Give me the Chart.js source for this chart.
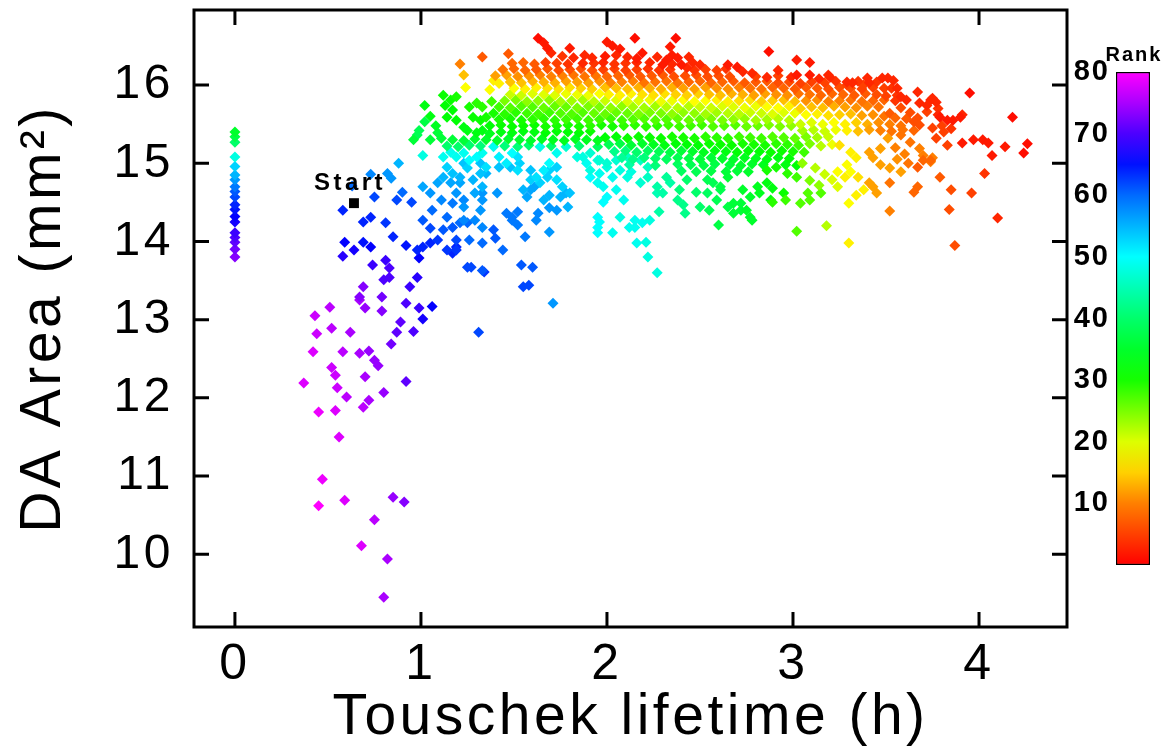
<!DOCTYPE html>
<html lang="en">
<head>
<meta charset="UTF-8">
<title>DA Area vs Touschek lifetime</title>
<script src="https://cdn.jsdelivr.net/npm/chart.js"></script>
<style>
  body { margin: 0; background: #fff; }
  #wrap { position: relative; width: 1164px; height: 752px; }
  #main { position: absolute; left: 0; top: 0; }
  #bar { position: absolute; left: 1060px; top: 0; }
</style>
</head>
<body>
<div id="wrap">
  <canvas id="main" width="1164" height="752"></canvas>
  <canvas id="bar" width="104" height="600"></canvas>
</div>
<script>
// axis ticks
const xTicks = [0, 1, 2, 3, 4];
const yTicks = [10, 11, 12, 13, 14, 15, 16];
const rankTicks = [10, 20, 30, 40, 50, 60, 70, 80];
const rankRange = [0, 80];

// starting lattice
const startPoint = [0.64, 14.49];
const startLabel = 'Start';

// [lifetime (h), DA area (mm2), rank]
const zeroColumn = [
  [0,15.40,35],[0,15.34,37],[0,15.27,40],[0,15.08,48],[0,14.96,53],[0,14.85,55],[0,14.79,57],[0,14.70,59],[0,14.64,61],[0,14.57,62],
  [0,14.47,64],[0,14.41,65],[0,14.32,66],[0,14.25,67],[0,14.11,69],[0,14.05,70],[0,13.99,71],[0,13.90,72],[0,13.80,73]
];

const lowTail = [
  [0.43,13.05,77],[0.51,13.16,76],[0.44,12.82,77],[0.52,12.89,76],[0.62,12.84,75],[0.42,12.59,78],[0.58,12.59,76],[0.67,12.57,75],
  [0.72,12.60,74],[0.75,12.48,74],[0.77,12.41,74],[0.52,12.39,77],[0.54,12.29,77],[0.70,12.27,75],[0.37,12.19,78],[0.92,12.21,71],
  [0.55,12.13,77],[0.60,12.01,76],[0.80,12.07,74],[0.72,11.97,75],[0.69,11.88,76],[0.45,11.82,79],[0.54,11.84,78],[0.56,11.50,78],
  [0.47,10.96,79],[0.45,10.62,80],[0.59,10.69,78],[0.85,10.73,74],[0.91,10.67,73],[0.75,10.44,76],[0.68,10.11,78],[0.82,9.94,75],
  [0.80,9.45,75],[0.67,13.25,75],[0.70,13.15,74],[0.79,13.11,73],[0.92,13.21,70],[0.99,13.15,69],[1.06,13.17,66],[0.89,12.97,71],
  [1.01,13.01,67],[0.87,12.84,71],[0.96,12.85,70],[0.84,12.69,72],[1.31,12.84,62]
];

const blueCloud = [
  [0.58,14.40,64],[0.63,14.71,60],[0.73,14.86,58],[0.75,14.57,62],[0.82,14.87,57],[0.84,14.81,57],[0.88,15.00,55],[0.90,14.63,60],
  [0.87,14.53,62],[0.95,14.50,62],[0.69,14.25,64],[0.73,14.31,64],[0.81,14.24,63],[0.85,14.06,64],[0.59,13.99,66],[0.69,13.99,65],
  [0.73,13.93,66],[0.64,13.89,67],[0.58,13.81,68],[0.74,13.70,69],[0.81,13.76,69],[0.83,13.66,70],[0.92,13.95,65],[0.98,13.89,64],
  [1.01,13.93,64],[1.05,13.98,64],[0.99,13.79,66],[1.09,14.02,63],[1.01,14.27,61],[1.06,14.40,60],[1.11,14.53,58],[1.14,14.31,60],
  [1.17,14.18,61],[1.19,14.02,62],[1.05,14.17,62],[1.12,14.15,61],[1.14,13.89,63],[1.19,13.89,63],[1.25,13.67,62],[1.27,13.67,62],
  [1.33,13.63,61],[1.26,14.02,60],[1.33,14.18,58],[1.32,14.40,57],[1.23,14.44,57],[1.23,14.27,58],[1.29,14.27,58],[1.33,13.98,60],
  [0.80,13.51,70],[0.83,13.54,70],[0.94,13.42,69],[0.98,13.54,68],[0.69,13.42,73],[0.67,13.29,73],[0.79,13.29,72],[1.19,13.93,64],
  [1.17,13.85,64],[1.34,13.61,63],[1.39,14.15,61],[1.44,13.89,60],[1.40,14.04,61],[1.46,14.36,59],[1.49,14.31,59],[1.52,14.38,59],
  [1.49,14.27,59],[1.56,14.06,59],[1.54,13.70,61],[1.60,13.67,61],[1.55,13.42,62],[1.58,13.44,62],[1.69,14.12,57],[1.62,14.27,58],
  [1.63,14.36,58],[1.52,14.21,59],[1.71,13.21,57],[1.17,14.49,59],[1.21,14.24,60],[1.25,14.24,60],[1.23,14.53,58],[1.33,14.53,57]
];

const cyanCloud = [
  [1.57,14.57,56],[1.59,14.66,56],[1.61,14.70,56],[1.66,14.53,55],[1.69,14.59,55],[1.75,14.57,55],[1.78,14.62,55],[1.79,14.44,55],
  [1.73,14.40,57],[1.69,14.43,57],[1.64,14.75,53],[1.68,14.82,53],[1.69,14.91,53],[1.73,14.95,53],[1.23,15.00,54],[1.32,15.00,54],
  [1.35,14.87,55],[1.21,14.75,56],[1.33,14.62,57],[1.41,14.62,57],[1.42,14.95,54],[1.48,14.95,54],[1.53,15.00,53],[1.52,15.08,52],
  [1.59,14.91,54],[1.12,15.08,49],[1.16,15.14,49],[1.19,15.08,49],[1.23,15.13,49],[1.26,15.04,50],[1.30,15.08,50],[1.33,15.13,49],
  [1.01,15.10,48],[1.14,14.95,53],[1.17,14.87,54],[1.21,14.82,55],[1.25,14.94,53],[1.28,14.79,55],[1.32,14.87,54],[1.12,14.82,55],
  [1.16,14.75,56],[1.19,14.62,57],[1.01,14.70,56],[1.05,14.62,57],[1.09,14.75,56],[1.29,14.62,56],[1.33,14.70,55],
  [2.27,13.60,48],[2.22,13.80,48],[2.21,13.99,48],[2.16,13.98,49],[2.15,14.18,49],[2.19,14.24,49],[2.07,14.31,48],[2.03,14.11,49],
  [1.95,14.11,50],[1.96,14.25,50],[1.98,14.50,50],[2.05,14.66,49],[2.09,14.53,49],[2.28,14.38,44],[2.30,14.62,44],[2.41,14.47,42],
  [2.38,14.53,42],[2.48,14.63,40],[2.43,14.79,40],[2.32,14.82,43],[2.39,14.66,41],[2.27,14.70,44],[2.22,14.82,46],[2.18,14.75,47],
  [2.11,14.82,48],[2.13,14.89,48],[2.03,14.82,49],[1.96,14.87,49],[1.91,14.82,50],[1.89,15.00,49],[1.95,15.04,48],[2.00,14.95,48],
  [2.07,14.91,48],[1.91,15.13,47],[1.78,15.21,47],[1.84,15.08,48],[1.73,15.13,49],[1.69,15.00,50],[1.66,14.91,51],[1.62,14.82,52],
  [1.59,14.79,53],[1.73,14.79,52],[1.76,14.70,53],[1.80,14.62,54],[1.55,14.66,55],[1.52,14.91,52],[1.46,15.00,51],[1.42,15.08,51],
  [1.49,15.13,50],[1.39,15.21,49],[1.35,14.95,52],[1.64,15.21,48],[1.95,14.75,49],[1.98,14.70,49],[2.00,14.57,50],[1.95,14.31,50],
  [1.95,14.18,50],[2.12,14.18,49],[2.15,14.27,49],[2.23,14.27,48],[2.27,14.62,45],[2.34,14.75,44],[2.42,14.36,42],[1.87,15.08,48],
  [1.91,14.91,48],[1.96,15.04,47],[2.00,15.00,47],[2.05,15.04,47],[2.11,15.08,46],[2.18,15.04,46],[2.22,14.95,46]
];

const greenUpper = [
  [1.12,15.87,31],[1.13,15.74,32],[1.16,15.81,31],[1.19,15.85,30],[1.17,15.68,32],[1.14,15.59,32],[1.19,15.55,32],[1.23,15.46,33],
  [1.02,15.74,33],[0.99,15.42,38],[0.98,15.36,38],[1.02,15.53,37],[1.09,15.39,36],[1.26,15.72,30],[1.30,15.77,29],[1.33,15.72,29],
  [1.28,15.59,31],[1.32,15.55,31],[1.35,15.59,30],[1.25,15.42,33],[1.30,15.39,33],[1.33,15.42,33],[1.05,15.60,33],[1.08,15.48,34],
  [0.96,15.30,36],[1.05,15.30,36],[1.11,15.32,36],[1.17,15.30,36],[1.23,15.29,36],[1.29,15.31,35],[1.35,15.30,35],
  [1.14,15.22,40],[1.20,15.21,40],[1.26,15.23,40],[1.32,15.22,41]
];

const greenLow = [
  [2.50,14.44,40],[2.55,14.40,38],[2.60,14.21,37],[2.68,14.49,36],[2.75,14.40,35],[2.78,14.27,35],[2.88,14.53,33],[2.89,14.68,33],
  [2.73,14.66,35],[2.82,14.62,34],[2.61,14.70,37],[2.65,14.82,36],[2.54,14.79,38],[2.54,14.62,39],[2.57,14.75,38],[2.61,14.66,38],
  [2.59,14.53,38],[2.65,14.44,37],[2.68,14.36,36],[2.72,14.40,36],[2.77,14.31,35],[2.72,14.49,36],[2.77,14.57,35],[2.81,14.70,34],
  [2.86,14.75,33],[2.95,14.62,31],[3.02,14.13,27],[3.15,14.62,27],[3.09,14.53,27],[3.08,14.62,27],[3.04,14.49,27],[2.96,14.53,28],
  [2.89,14.50,29],[3.02,14.82,28],[2.97,14.87,29],[2.91,14.95,30],[2.86,14.91,30],[3.05,15.00,24],[3.12,14.94,22],[3.17,14.86,21],
  [3.09,14.78,25],[3.14,14.72,24],[3.18,14.20,22]
];

const frontBand = [
  [1.33,16.36,7],[1.47,16.40,7],[1.76,16.37,4],[1.99,16.37,2],[2.05,16.38,3],[2.11,16.36,3],[2.16,16.34,2],[2.44,16.36,3],
  [1.21,16.27,10],[1.49,16.28,8],[1.55,16.29,8],[1.61,16.27,7],[1.67,16.29,5],[1.73,16.28,5],[1.79,16.27,4],[1.93,16.28,4],
  [1.98,16.29,3],[2.04,16.27,4],[2.10,16.28,4],[2.16,16.29,3],[2.35,16.27,3],[2.46,16.29,3],
  [1.44,16.20,9],[1.50,16.21,8],[1.56,16.19,8],[1.62,16.20,7],[1.68,16.21,7],[1.74,16.19,6],[1.80,16.20,6],[1.86,16.21,6],
  [1.92,16.19,6],[1.98,16.20,5],[2.04,16.21,5],[2.10,16.19,5],[2.16,16.20,5],[2.22,16.21,4],[2.28,16.19,4],[2.34,16.20,4],
  [2.47,16.19,4],[2.53,16.20,5],[2.59,16.19,5],[2.64,16.21,4],[2.92,16.19,3],
  [1.23,16.13,14],[1.40,16.12,12],[1.46,16.13,12],[1.52,16.11,11],[1.58,16.12,11],[1.64,16.13,10],[1.70,16.11,10],[1.76,16.12,10],
  [1.82,16.13,9],[1.88,16.11,9],[1.94,16.12,9],[2.00,16.11,8],[2.06,16.12,8],[2.12,16.13,7],[2.18,16.11,7],[2.24,16.12,7],
  [2.30,16.13,7],[2.36,16.11,6],[2.42,16.12,6],[2.48,16.13,6],[2.54,16.11,6],[2.60,16.12,6],[2.66,16.11,6],[2.80,16.11,5],
  [2.92,16.12,5],[3.14,16.08,3],
  [1.39,16.06,17],[1.42,16.02,17],[1.48,16.04,14],[1.54,16.03,14],[1.60,16.05,13],[1.66,16.04,13],[1.72,16.03,13],[1.78,16.05,12],
  [1.84,16.04,12],[1.90,16.03,12],[1.96,16.05,11],[2.02,16.03,10],[2.08,16.04,10],[2.14,16.05,10],[2.20,16.03,9],[2.26,16.04,9],
  [2.32,16.05,9],[2.38,16.03,9],[2.44,16.04,8],[2.50,16.05,8],[2.56,16.03,8],[2.62,16.04,8],[2.68,16.05,7],[2.74,16.03,7],
  [2.80,16.04,7],[2.86,16.05,7],[2.92,16.03,6],[2.98,16.04,6],[3.04,16.02,5],[3.10,16.04,5],[3.17,16.03,5],[3.23,16.05,4],
  [3.35,16.05,4],[3.45,16.04,4],
  [1.24,15.97,18],[1.37,15.94,18],[1.50,15.96,18],[1.56,15.95,17],[1.62,15.97,17],[1.68,15.96,16],[1.74,15.95,16],[1.80,15.97,16],
  [1.86,15.96,15],[1.92,15.95,15],[1.99,15.97,14],[2.05,15.96,14],[2.11,15.95,14],[2.17,15.97,13],[2.23,15.96,13],[2.29,15.95,13],
  [2.35,15.97,13],[2.41,15.96,12],[2.47,15.95,12],[2.53,15.97,12],[2.59,15.96,11],[2.65,15.95,11],[2.71,15.97,10],[2.77,15.96,9],
  [2.83,15.95,9],[2.89,15.97,8],[2.95,15.96,8],[3.01,15.95,7],[3.07,15.97,7],[3.13,15.96,7],[3.19,15.95,6],[3.31,15.96,6],
  [3.37,15.95,5],[3.43,15.97,5],[3.49,15.96,5],
  [1.48,15.88,21],[1.54,15.87,21],[1.60,15.89,20],[1.66,15.88,20],[1.72,15.87,20],[1.78,15.89,19],[1.84,15.88,19],[1.90,15.87,19],
  [1.96,15.89,18],[2.01,15.88,17],[2.07,15.87,17],[2.13,15.89,17],[2.19,15.88,16],[2.25,15.87,16],[2.31,15.89,16],[2.37,15.88,15],
  [2.43,15.87,15],[2.49,15.89,15],[2.55,15.88,14],[2.61,15.87,14],[2.67,15.89,13],[2.73,15.88,13],[2.79,15.87,12],[2.85,15.89,12],
  [2.91,15.88,11],[2.97,15.87,11],[3.03,15.89,9],[3.09,15.88,9],[3.15,15.87,8],[3.21,15.89,8],[3.27,15.88,8],[3.33,15.87,7],
  [3.39,15.89,7],[3.45,15.88,6],[3.50,15.86,5],
  [1.38,15.79,28],[1.45,15.80,25],[1.51,15.81,25],[1.57,15.79,24],[1.63,15.80,24],[1.69,15.81,24],[1.75,15.79,23],[1.81,15.80,23],
  [1.87,15.81,23],[1.93,15.79,22],[1.99,15.80,21],[2.05,15.81,20],[2.11,15.79,20],[2.17,15.80,20],[2.23,15.81,19],[2.29,15.79,19],
  [2.35,15.80,19],[2.41,15.81,18],[2.47,15.79,18],[2.53,15.80,18],[2.59,15.81,17],[2.65,15.79,17],[2.71,15.80,16],[2.77,15.81,16],
  [2.83,15.79,15],[2.89,15.80,15],[2.95,15.81,14],[3.01,15.79,14],[3.07,15.80,11],[3.13,15.81,11],[3.19,15.79,10],[3.25,15.80,10],
  [3.31,15.81,9],[3.37,15.79,9],[3.43,15.80,8],[3.49,15.81,8],[3.55,15.80,4],
  [1.42,15.72,28],[1.48,15.71,27],[1.54,15.73,27],[1.60,15.72,27],[1.66,15.71,26],[1.72,15.73,26],[1.78,15.72,26],[1.84,15.71,25],
  [1.90,15.73,25],[1.96,15.72,25],[2.02,15.71,24],[2.08,15.73,24],[2.14,15.72,23],[2.20,15.71,23],[2.26,15.73,23],[2.32,15.72,22],
  [2.38,15.71,22],[2.44,15.73,22],[2.50,15.72,21],[2.56,15.71,21],[2.62,15.73,20],[2.68,15.72,20],[2.74,15.71,19],[2.80,15.73,19],
  [2.86,15.72,18],[2.92,15.71,18],[2.98,15.73,17],[3.04,15.70,15],[3.10,15.72,14],[3.16,15.71,14],[3.22,15.73,13],[3.28,15.72,12],
  [3.34,15.71,11],[3.40,15.73,10],[3.46,15.72,9],[3.52,15.64,7],[3.58,15.71,6],[3.63,15.65,6],[3.72,15.66,5],[3.78,15.70,4],
  [1.39,15.64,30],[1.45,15.63,29],[1.51,15.65,29],[1.57,15.64,28],[1.63,15.63,28],[1.69,15.65,28],[1.75,15.64,27],[1.81,15.63,27],
  [1.87,15.65,27],[1.93,15.64,26],[1.99,15.63,26],[2.05,15.65,26],[2.11,15.64,26],[2.17,15.63,25],[2.23,15.65,25],[2.29,15.64,25],
  [2.35,15.63,24],[2.41,15.65,24],[2.47,15.64,24],[2.53,15.63,23],[2.59,15.65,23],[2.65,15.64,22],[2.71,15.63,22],[2.77,15.65,21],
  [2.83,15.64,21],[2.89,15.63,20],[2.95,15.65,20],[3.01,15.64,19],[3.07,15.62,18],[3.13,15.63,17],[3.19,15.61,16],[3.25,15.62,15],
  [3.31,15.63,14],[3.37,15.61,12],[3.43,15.62,11],[3.49,15.60,9],[3.55,15.58,8],[3.61,15.57,7],[3.67,15.58,6],
  [1.42,15.56,30],[1.48,15.57,30],[1.54,15.55,30],[1.60,15.56,29],[1.66,15.57,29],[1.72,15.55,29],[1.78,15.56,28],[1.84,15.57,28],
  [1.90,15.55,28],[1.96,15.56,28],[2.02,15.57,28],[2.08,15.55,28],[2.14,15.56,27],[2.20,15.57,27],[2.26,15.55,27],[2.32,15.56,27],
  [2.38,15.57,26],[2.44,15.55,26],[2.50,15.56,26],[2.56,15.57,25],[2.62,15.55,25],[2.68,15.56,24],[2.74,15.57,24],[2.80,15.55,23],
  [2.86,15.56,23],[2.92,15.57,22],[2.98,15.55,22],[3.04,15.50,21],[3.10,15.52,20],[3.16,15.50,19],[3.22,15.52,18],[3.28,15.50,17],
  [3.34,15.52,15],[3.40,15.50,13],[3.46,15.52,11],[3.52,15.50,10],[3.58,15.48,9],[3.65,15.53,6],[3.68,15.49,6],[3.80,15.48,5],
  [3.85,15.44,4],
  [1.37,15.48,32],[1.43,15.49,31],[1.49,15.47,31],[1.55,15.48,31],[1.61,15.49,31],[1.67,15.47,30],[1.73,15.48,30],[1.79,15.49,30],
  [1.85,15.47,30],[1.91,15.48,29],[1.97,15.49,30],[2.03,15.47,30],[2.09,15.48,29],[2.15,15.49,29],[2.21,15.47,29],[2.27,15.48,29],
  [2.33,15.49,28],[2.39,15.47,28],[2.45,15.48,28],[2.51,15.49,28],[2.57,15.47,27],[2.63,15.48,27],[2.69,15.49,27],[2.75,15.47,26],
  [2.81,15.48,26],[2.87,15.49,25],[2.93,15.47,25],[2.99,15.48,24],[3.05,15.42,23],[3.11,15.43,22],[3.17,15.41,21],[3.23,15.43,19],
  [3.29,15.42,17],[3.35,15.41,14],[3.41,15.43,12],[3.47,15.42,10],[3.53,15.41,9],[3.59,15.43,9],[3.65,15.42,8],
  [1.37,15.38,34],[1.43,15.40,33],[1.49,15.39,33],[1.55,15.41,33],[1.61,15.40,33],[1.67,15.39,32],[1.73,15.41,32],[1.79,15.40,32],
  [1.85,15.39,32],[1.91,15.41,31],[1.99,15.33,32],[2.05,15.34,32],[2.11,15.32,31],[2.17,15.34,31],[2.23,15.33,31],[2.29,15.32,31],
  [2.35,15.34,30],[2.41,15.33,30],[2.47,15.32,30],[2.53,15.34,29],[2.59,15.33,29],[2.65,15.32,29],[2.71,15.34,28],[2.77,15.33,28],
  [2.83,15.32,28],[2.89,15.34,27],[2.95,15.33,27],[3.01,15.32,26],[3.07,15.34,25],[3.13,15.33,23],[3.19,15.34,21],
  [1.41,15.29,35],[1.47,15.31,35],[1.53,15.30,35],[1.59,15.29,35],[1.65,15.31,34],[1.71,15.30,34],[1.77,15.29,34],[1.83,15.31,34],
  [1.89,15.30,34],[1.95,15.29,34],[2.01,15.24,38],[2.07,15.25,37],[2.13,15.23,36],[2.19,15.25,35],[2.25,15.24,34],[2.31,15.23,33],
  [2.37,15.25,32],[2.43,15.24,32],[2.49,15.23,32],[2.55,15.25,31],[2.61,15.24,31],[2.67,15.23,31],[2.73,15.25,30],[2.79,15.24,30],
  [2.85,15.23,30],[2.91,15.25,29],[2.97,15.24,29],[3.03,15.23,28],[3.09,15.25,25],[3.15,15.22,22],[3.21,15.24,19],
  [1.45,15.22,41],[1.52,15.21,41],[1.58,15.23,40],[1.70,15.22,40],[1.85,15.22,40],[1.95,15.21,39],[2.04,15.15,42],[2.10,15.16,41],
  [2.16,15.14,40],[2.22,15.16,39],[2.28,15.15,38],[2.34,15.14,37],[2.40,15.16,36],[2.46,15.15,35],[2.52,15.14,34],[2.58,15.16,33],
  [2.64,15.15,33],[2.70,15.14,32],[2.76,15.16,32],[2.82,15.15,32],[2.88,15.14,31],[2.94,15.16,31],[3.00,15.15,30],[3.06,15.14,28],
  [2.08,15.07,43],[2.14,15.05,42],[2.20,15.07,41],[2.26,15.06,40],[2.32,15.05,39],[2.38,15.07,38],[2.44,15.06,37],[2.50,15.05,36],
  [2.56,15.07,36],[2.62,15.06,35],[2.68,15.05,35],[2.74,15.07,34],[2.80,15.06,34],[2.86,15.05,33],[2.92,15.07,33],[2.98,15.06,32],
  [2.12,14.98,44],[2.26,14.97,41],[2.38,14.99,39],[2.45,14.98,38],[2.52,14.97,37],[2.58,14.99,37],[2.66,14.98,36],[2.72,14.97,35],
  [2.78,14.99,35],[2.84,14.98,34],[2.96,14.98,33],[3.02,14.97,32],
  [2.40,14.90,39],[2.48,14.89,38],[2.56,14.90,37],[2.64,14.89,36],[2.70,14.90,36],[2.76,14.89,35]
];

const redFront = [
  [1.63,16.60,1],[2.15,16.60,1],[2.37,16.60,1],[2.00,16.55,2],[1.66,16.54,2],[1.80,16.47,2],[2.03,16.50,2],[2.07,16.46,2],
  [2.34,16.49,2],[2.87,16.43,1],[1.68,16.47,2],[1.70,16.41,3],[1.88,16.38,3],[2.19,16.41,2],[2.35,16.38,2],[2.27,16.36,3],
  [1.92,16.35,3],[1.82,16.35,3],[1.87,16.28,3],[2.38,16.35,2],[2.40,16.26,2],[2.43,16.22,3],[2.23,16.29,3],[2.30,16.26,2],
  [2.32,16.32,2],[2.50,16.26,3],[2.65,16.26,2],[2.70,16.23,2],[2.73,16.17,3],[2.78,16.15,3],[2.86,16.10,3],[2.99,16.10,3],
  [3.02,16.32,2],[3.09,16.29,2],[3.09,16.13,2],[3.02,16.13,2],[3.20,16.10,3],[3.29,16.04,3],[3.32,16.03,3],[3.40,16.09,3],
  [3.41,16.03,3],[3.51,16.09,3],[3.54,16.06,3],[3.56,15.96,3],[3.58,15.85,3],[3.61,15.81,3],[3.67,15.91,3],[3.68,15.77,3],
  [3.74,15.81,3],[3.77,15.78,3],[3.95,15.90,1],[4.18,15.59,1],[3.79,15.59,2],[3.83,15.55,2],[3.86,15.55,2],[3.90,15.59,2],
  [3.78,15.62,3],[3.91,15.26,2],[3.97,15.30,2],[4.02,15.30,2],[4.05,15.26,2],[4.07,15.10,2],[4.14,15.21,2],[4.24,15.13,1],
  [4.26,15.25,1],[4.10,14.30,3],[4.03,14.87,4],[3.48,16.09,3],[3.53,15.96,4],[3.56,15.87,4],[3.72,15.74,3],[3.75,15.83,3],
  [3.91,15.62,3],[3.19,16.13,3],[3.38,16.00,5],[3.29,16.00,5],[3.25,15.97,6]
];

const orangeTail = [
  [3.30,13.98,17],[3.24,14.70,20],[3.21,14.79,20],[3.35,14.82,16],[3.34,14.59,17],[3.38,14.66,17],[3.30,14.49,18],[3.28,14.82,17],
  [3.45,14.62,12],[3.43,14.70,12],[3.41,14.75,12],[3.52,14.39,10],[3.52,14.75,9],[3.67,14.70,8],[3.65,14.63,8],[3.67,14.95,7],
  [3.70,15.04,8],[3.74,15.04,8],[3.79,14.82,7],[3.85,14.66,6],[3.84,14.41,6],[3.87,13.95,6],[3.96,14.62,5],[3.68,15.19,10],
  [3.70,15.10,10],[3.75,15.07,10],[3.74,15.02,10],[3.51,15.32,12],[3.47,15.19,12],[3.41,15.14,12],[3.43,15.07,12],[3.25,15.23,16],
  [3.31,15.14,17],[3.34,15.07,17],[3.29,14.98,18],[3.24,14.89,18],[3.31,14.89,18],[3.47,14.98,12],[3.52,14.94,12],[3.58,14.89,12],
  [3.58,15.36,9],[3.63,15.27,9],[3.75,15.45,5],[3.81,15.40,5],[3.77,15.32,5],[3.83,15.23,5],[3.55,15.20,10],[3.60,15.12,10],
  [3.62,15.00,9],[3.56,15.05,11]
];

// rank -> rainbow colour, same scale as the colour bar
const hueStops = [[0,0],[10,30],[20,68],[30,115],[40,145],[50,180],[60,215],[65,236],[70,258],[75,280],[80,300]];
function rankColor(r) {
  for (let i = 1; i < hueStops.length; i++) {
    const [r0, h0] = hueStops[i - 1];
    const [r1, h1] = hueStops[i];
    if (r <= r1) return `hsl(${(h0 + (h1 - h0) * (r - r0) / (r1 - r0)).toFixed(1)},100%,50%)`;
  }
  return 'hsl(300,100%,50%)';
}

const FONT = "'Liberation Sans', Arial, sans-serif";

// low rank (best) drawn last so it sits on top
const points = [].concat(zeroColumn, lowTail, blueCloud, cyanCloud, greenUpper, greenLow, frontBand, redFront, orangeTail)
  .map(p => ({ x: p[0], y: p[1], rank: p[2] }))
  .sort((a, b) => b.rank - a.rank);

// wide letter spacing like the original plotting font
const spacing = px => ({
  id: 'spacing',
  beforeDraw(chart) { chart.ctx.letterSpacing = px; },
  afterDraw(chart) { chart.ctx.letterSpacing = '0px'; }
});

const noPad = s => { s.paddingTop = 0; s.paddingBottom = 0; s.paddingLeft = 0; s.paddingRight = 0; };

const frame = {
  id: 'frame',
  afterDatasetsDraw(chart) {
    const { ctx, chartArea: a, scales: { x, y } } = chart;
    ctx.save();
    ctx.strokeStyle = '#000';
    ctx.lineWidth = 3;
    ctx.strokeRect(a.left, a.top, a.right - a.left, a.bottom - a.top);
    ctx.beginPath();
    x.ticks.forEach(t => {
      const px = x.getPixelForValue(t.value);
      ctx.moveTo(px, a.bottom); ctx.lineTo(px, a.bottom - 15);
      ctx.moveTo(px, a.top); ctx.lineTo(px, a.top + 15);
    });
    y.ticks.forEach(t => {
      const py = y.getPixelForValue(t.value);
      ctx.moveTo(a.left, py); ctx.lineTo(a.left + 15, py);
      ctx.moveTo(a.right, py); ctx.lineTo(a.right - 15, py);
    });
    ctx.stroke();
    // start label
    const sx = x.getPixelForValue(startPoint[0]);
    const sy = y.getPixelForValue(startPoint[1]);
    ctx.fillStyle = '#000';
    ctx.font = 'bold 24px ' + FONT;
    ctx.textAlign = 'center';
    ctx.textBaseline = 'middle';
    ctx.fillText(startLabel, sx - 4, sy - 20);
    ctx.restore();
  }
};

new Chart(document.getElementById('main'), {
  type: 'scatter',
  data: {
    datasets: [{
      data: points,
      pointStyle: 'rectRot',
      pointRadius: 5.5,
      pointBorderWidth: 0,
      pointBackgroundColor: c => rankColor(c.raw.rank)
    }, {
      data: [{ x: startPoint[0], y: startPoint[1] }],
      pointStyle: 'rect',
      pointRadius: 7,
      pointBorderWidth: 0,
      pointBackgroundColor: '#000'
    }]
  },
  options: {
    responsive: false,
    animation: false,
    layout: { padding: { top: 10, right: 97, left: 0, bottom: 0 } },
    plugins: { legend: { display: false }, tooltip: { enabled: false } },
    scales: {
      x: {
        type: 'linear', min: -0.22, max: 4.473,
        afterBuildTicks: s => { s.ticks = xTicks.map(v => ({ value: v })); },
        afterFit: s => { s.height = 125; noPad(s); },
        grid: { display: false, drawTicks: false },
        border: { display: false },
        ticks: { color: '#000', font: { family: FONT, size: 50 }, padding: 8 },
        title: { display: true, text: 'Touschek lifetime (h)', color: '#000', font: { family: FONT, size: 57 }, padding: 0 }
      },
      y: {
        min: 9.07, max: 16.96,
        afterBuildTicks: s => { s.ticks = yTicks.map(v => ({ value: v })); },
        afterFit: s => { s.width = 194; noPad(s); },
        grid: { display: false, drawTicks: false },
        border: { display: false },
        ticks: { color: '#000', font: { family: FONT, size: 48 }, padding: 20 },
        title: { display: true, text: 'DA Area (mm²)', color: '#000', font: { family: FONT, size: 57 }, padding: { top: 10, bottom: 0 } }
      }
    }
  },
  plugins: [frame, spacing('3.5px')]
});

// colour bar
const rankTitle = {
  id: 'rankTitle',
  afterDraw(chart) {
    const { ctx, chartArea: a } = chart;
    ctx.save();
    ctx.fillStyle = '#000';
    ctx.font = 'bold 20px ' + FONT;
    ctx.textAlign = 'center';
    ctx.textBaseline = 'middle';
    ctx.fillText('Rank', (a.left + a.right) / 2 + 1, a.top - 17);
    ctx.restore();
  }
};

new Chart(document.getElementById('bar'), {
  type: 'bar',
  data: {
    labels: ['Rank'],
    datasets: [{
      data: [rankRange],
      barPercentage: 1,
      categoryPercentage: 1,
      borderColor: '#000',
      borderWidth: 1.5,
      borderSkipped: false,
      backgroundColor: c => {
        const a = c.chart.chartArea;
        if (!a) return '#fff';
        const g = c.chart.ctx.createLinearGradient(0, a.bottom, 0, a.top);
        for (let v = rankRange[0]; v <= rankRange[1]; v += 5) g.addColorStop(v / rankRange[1], rankColor(v));
        return g;
      }
    }]
  },
  options: {
    responsive: false,
    animation: false,
    layout: { padding: { top: 72, bottom: 35, right: 14, left: 0 } },
    plugins: { legend: { display: false }, tooltip: { enabled: false } },
    scales: {
      x: { display: false },
      y: {
        min: rankRange[0], max: rankRange[1],
        afterBuildTicks: s => { s.ticks = rankTicks.map(v => ({ value: v })); },
        afterFit: s => { s.width = 56; noPad(s); },
        grid: { display: false, drawTicks: false },
        border: { display: false },
        ticks: { color: '#000', font: { family: FONT, size: 29, weight: 'bold' }, padding: 6 }
      }
    }
  },
  plugins: [rankTitle, spacing('2px')]
});
</script>
</body>
</html>
